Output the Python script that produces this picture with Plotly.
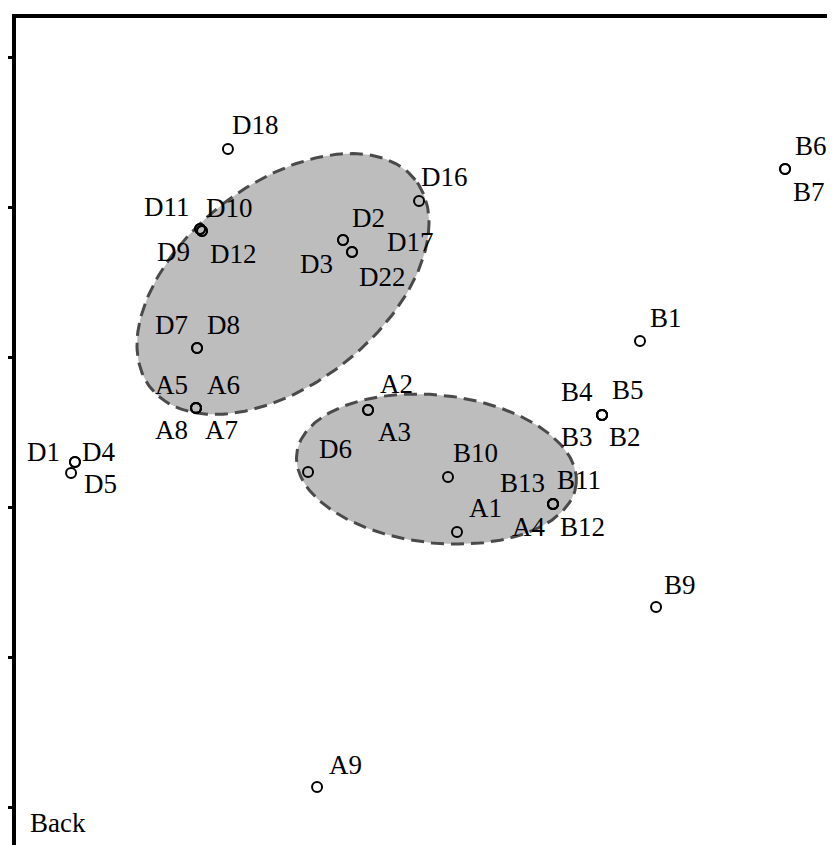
import numpy as np
import plotly.graph_objects as go

# ---- data (ordination scores) ----
point_names = ["D18",
               "D11", "D9", "D10", "D12",
               "D7", "D8",
               "A5", "A6", "A8", "A7",
               "D1", "D4", "D5",
               "D6",
               "A2", "A3",
               "B10", "A1",
               "B13", "B11", "A4", "B12",
               "B4", "B5", "B3", "B2",
               "B1", "B6", "B7", "B9", "A9", "D16",
               "D2", "D3", "D17", "D22"]
x_scores = [-1.307,
            -1.493, -1.493, -1.480, -1.480,
            -1.513, -1.513,
            -1.520, -1.520, -1.520, -1.520,
            -2.327, -2.327, -2.353,
            -0.773,
            -0.373, -0.373,
            0.160, 0.220,
            0.860, 0.860, 0.860, 0.860,
            1.187, 1.187, 1.187, 1.187,
            1.440, 2.407, 2.407, 1.547, -0.713, -0.033,
            -0.540, -0.540, -0.480, -0.480]
y_scores = [1.387,
            0.853, 0.853, 0.840, 0.840,
            0.060, 0.060,
            -0.340, -0.340, -0.340, -0.340,
            -0.700, -0.700, -0.773,
            -0.767,
            -0.353, -0.353,
            -0.800, -1.167,
            -0.980, -0.980, -0.980, -0.980,
            -0.387, -0.387, -0.387, -0.387,
            0.107, 1.253, 1.253, -1.667, -2.867, 1.040,
            0.780, 0.780, 0.700, 0.700]

# confidence ellipses: centre, semi-axes, rotation (deg)
ellipse_cx = [-0.940, 0.083]
ellipse_cy = [0.487, -0.747]
ellipse_a = [1.122, 0.937]
ellipse_b = [0.667, 0.493]
ellipse_angle = [38.2, -6.2]

y_tick_values = [-3, -2, -1, 0, 1, 2]
axis_label = "Back"

# ---- label placement (pixel offsets: dx, dy upward) ----
placement = {
    "D18": (2, 24),
    "D11": (-8, 22), "D10": (2, 23),
    "D9": (-8, -23), "D12": (6, -23),
    "D7": (-7, 23), "D8": (8, 23),
    "A5": (-6, 23), "A6": (9, 23),
    "A8": (-6, -22), "A7": (7, -22),
    "D1": (-13, 10), "D4": (5, 10), "D5": (11, -11),
    "D6": (9, 23),
    "A2": (10, 26), "A3": (8, -22),
    "B10": (3, 24), "A1": (10, 24),
    "B13": (-6, 21), "B11": (2, 24),
    "A4": (-6, -23), "B12": (5, -23),
    "B4": (-7, 23), "B5": (8, 25),
    "B3": (-7, -22), "B2": (5, -22),
    "B1": (8, 23), "B6": (8, 23), "B7": (6, -23),
    "B9": (6, 22), "A9": (10, 22), "D16": (0, 24),
    "D2": (7, 22), "D3": (-8, -24),
    "D17": (33, 10), "D22": (5, -25),
}

fig = go.Figure()

t = np.linspace(0, 2 * np.pi, 200)
for cx, cy, a, b, ang in zip(ellipse_cx, ellipse_cy, ellipse_a, ellipse_b, ellipse_angle):
    th = np.deg2rad(ang)
    ex = cx + a * np.cos(t) * np.cos(th) - b * np.sin(t) * np.sin(th)
    ey = cy + a * np.cos(t) * np.sin(th) + b * np.sin(t) * np.cos(th)
    fig.add_trace(go.Scatter(x=ex, y=ey, mode="lines", fill="toself",
                             fillcolor="#bdbdbd",
                             line=dict(color="#4a4a4a", width=3, dash="13px,7px"),
                             hoverinfo="skip", showlegend=False))

fig.add_trace(go.Scatter(x=x_scores, y=y_scores, mode="markers",
                         marker=dict(symbol="circle-open", size=10,
                                     color="black", line=dict(width=2, color="black")),
                         text=point_names, hoverinfo="text", showlegend=False))

font = dict(family="Liberation Serif, Times New Roman, serif", size=27, color="black")
for name, x, y in zip(point_names, x_scores, y_scores):
    dx, dy = placement[name]
    fig.add_annotation(x=x, y=y, text=name, showarrow=False,
                       xanchor="left" if dx >= 0 else "right",
                       yanchor="middle", xshift=dx, yshift=dy,
                       font=font)

fig.add_annotation(xref="paper", yref="paper", x=0.015, y=0.027,
                   xanchor="left", yanchor="middle", text=axis_label,
                   showarrow=False, font=font)

fig.update_layout(
    width=827, height=837,
    margin=dict(l=8, r=0, t=10, b=0),
    plot_bgcolor="white", paper_bgcolor="white",
    xaxis=dict(range=[(16 - 424) / 150, (835 - 424) / 150], side="top",
               showline=True, linewidth=4, linecolor="black",
               showgrid=False, zeroline=False, showticklabels=False, ticks=""),
    yaxis=dict(range=[(357 - 845) / 150, (357 - 18) / 150],
               showline=True, linewidth=4, linecolor="black",
               showgrid=False, zeroline=False, showticklabels=False,
               ticks="outside", ticklen=8, tickwidth=2.5, tickcolor="black",
               tickvals=y_tick_values),
)

fig.write_html("out.html")
